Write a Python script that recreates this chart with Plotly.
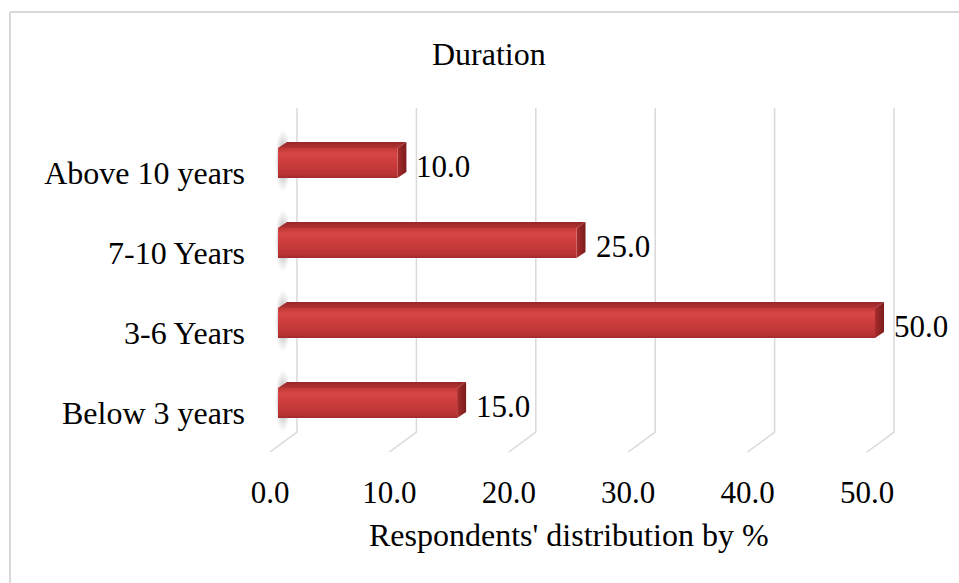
import plotly.graph_objects as go

# ---- data ----
categories = ["Below 3 years", "3-6 Years", "7-10 Years", "Above 10 years"]
values = [15.0, 50.0, 25.0, 10.0]
x_ticks = [0, 10, 20, 30, 40, 50]
x_tick_labels = ["0.0", "10.0", "20.0", "30.0", "40.0", "50.0"]
chart_title = "Duration"
x_title = "Respondents' distribution by %"

# ---- canvas / plot-area geometry (pixels) ----
W, H = 959, 583
L, R, T, B = 250, 959, 60, 470          # plot area box
X0_PX, PX_PER_UNIT = 270, 11.94         # front-floor position of value 0, px per %
Y0_PX, PX_PER_CAT = 413, 80             # first category on the front floor, px per category

def dx(px):   # horizontal pixel distance -> value units
    return px / PX_PER_UNIT

def dy(px):   # vertical pixel distance -> category units (upwards)
    return px / PX_PER_CAT

def paper_x(px):
    return (px - L) / (R - L)

def paper_y(py):
    return (B - py) / (B - T)

x_range = [-dx(X0_PX - L), dx(R - X0_PX)]
y_range = [-dy(B - Y0_PX), dy(Y0_PX - T)]

FONT = "Liberation Serif, Times New Roman, serif"
GRID = "#D9D9D9"

# 3-D box depth offsets
WALL_DX, WALL_DY = dx(27), dy(20)       # back wall relative to front floor
FLOOR_FRONT = -dy(452 - Y0_PX)
FLOOR_BACK = FLOOR_FRONT + WALL_DY
WALL_TOP = dy(Y0_PX - 108)
BAR_DX, BAR_DY = dx(8), dy(10)          # bar front face inside the box
BAR_HALF = dy(15)
SIDE_DX, SIDE_DY = dx(9), dy(6)         # bar top / end face depth

fig = go.Figure()

# back-wall gridlines and floor ticks
for v in x_ticks:
    fig.add_trace(go.Scatter(
        x=[v + WALL_DX, v + WALL_DX, v],
        y=[WALL_TOP, FLOOR_BACK, FLOOR_FRONT],
        mode="lines", line=dict(color=GRID, width=1.5),
        hoverinfo="skip", showlegend=False))

# bars drawn as 3-D boxes
for i, (cat, v) in enumerate(zip(categories, values)):
    yc = i + BAR_DY
    yb, yt = yc - BAR_HALF, yc + BAR_HALF
    x0, x1 = BAR_DX, v + BAR_DX

    # soft shadow on the left wall
    fig.add_trace(go.Scatter(
        x=[x0 - dx(3), x0 + dx(13), x0 + dx(13), x0 - dx(3), x0 - dx(3)],
        y=[yb - dy(14), yb - dy(14), yt + dy(18), yt + dy(18), yb - dy(14)],
        mode="lines", line=dict(width=0), fill="toself",
        fillgradient=dict(type="radial",
                          colorscale=[[0, "rgba(100,100,100,0.85)"],
                                      [0.6, "rgba(140,140,140,0.35)"],
                                      [1, "rgba(160,160,160,0)"]]),
        hoverinfo="skip", showlegend=False))

    # top face
    fig.add_trace(go.Scatter(
        x=[x0, x1, x1 + SIDE_DX, x0 + SIDE_DX, x0],
        y=[yt, yt, yt + SIDE_DY, yt + SIDE_DY, yt],
        mode="lines", line=dict(width=0), fill="toself",
        fillgradient=dict(type="vertical",
                          colorscale=[[0, "#B23333"], [1, "#962626"]]),
        hoverinfo="skip", showlegend=False))

    # end face
    fig.add_trace(go.Scatter(
        x=[x1, x1 + SIDE_DX, x1 + SIDE_DX, x1, x1],
        y=[yb, yb + SIDE_DY, yt + SIDE_DY, yt, yb],
        mode="lines", line=dict(width=0), fill="toself",
        fillgradient=dict(type="horizontal",
                          colorscale=[[0, "#A82C2C"], [1, "#7A1C1C"]]),
        hoverinfo="skip", showlegend=False))

    # front face
    fig.add_trace(go.Scatter(
        x=[x0, x1, x1, x0, x0],
        y=[yb, yb, yt, yt, yb],
        mode="lines", line=dict(width=0), fill="toself",
        fillgradient=dict(type="vertical",
                          colorscale=[[0, "#A22B2B"], [0.12, "#B93434"],
                                      [0.5, "#CB3B3B"], [0.8, "#D84646"],
                                      [1, "#C33838"]]),
        name=cat, hovertemplate=f"{cat}: {v:.1f}<extra></extra>",
        showlegend=False))

annotations = []
# value labels
for i, v in enumerate(values):
    annotations.append(dict(
        x=v + dx(25), y=i + dy(7), xref="x", yref="y",
        text=f"{v:.1f}", showarrow=False, xanchor="left", yanchor="middle",
        font=dict(family=FONT, size=31, color="#000000")))

# chart title and axis title
annotations.append(dict(
    x=paper_x(489), y=paper_y(54), xref="paper", yref="paper",
    text=chart_title, showarrow=False, xanchor="center", yanchor="middle",
    font=dict(family=FONT, size=32, color="#000000")))
annotations.append(dict(
    x=25, y=paper_y(535), xref="x", yref="paper",
    text=x_title, showarrow=False, xanchor="center", yanchor="middle",
    font=dict(family=FONT, size=32, color="#000000")))

# chart-area border
shapes = [
    dict(type="line", xref="paper", yref="paper",
         x0=paper_x(10), x1=paper_x(W + 5), y0=paper_y(12), y1=paper_y(12),
         line=dict(color=GRID, width=2)),
    dict(type="line", xref="paper", yref="paper",
         x0=paper_x(10), x1=paper_x(10), y0=paper_y(12), y1=paper_y(H + 5),
         line=dict(color=GRID, width=2)),
]

fig.update_layout(
    width=W, height=H,
    margin=dict(l=L, r=W - R, t=T, b=H - B, pad=0),
    paper_bgcolor="white", plot_bgcolor="white",
    showlegend=False,
    annotations=annotations,
    shapes=shapes,
    xaxis=dict(range=x_range, tickvals=x_ticks, ticktext=x_tick_labels,
               showgrid=False, zeroline=False, showline=False, ticks="",
               ticklabelstandoff=1, fixedrange=True,
               tickfont=dict(family=FONT, size=31, color="#000000")),
    yaxis=dict(range=y_range, tickvals=list(range(len(categories))),
               ticktext=categories, showgrid=False, zeroline=False,
               showline=False, ticks="", ticklabelstandoff=4, fixedrange=True,
               tickfont=dict(family=FONT, size=32, color="#000000")),
)

fig.write_html("out.html")
